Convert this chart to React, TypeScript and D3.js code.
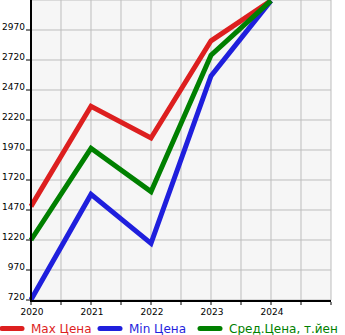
import React from "react";
import * as d3 from "d3";

const years = [2020, 2021, 2022, 2023, 2024];
const maxPrice = [1500, 2335, 2070, 2880, 3215];
const minPrice = [722, 1600, 1192, 2587, 3215];
const avgPrice = [1220, 1984, 1623, 2760, 3215];
const yTicks = [720, 970, 1220, 1470, 1720, 1970, 2220, 2470, 2720, 2970];
const seriesNames = ["Max Цена", "Min Цена", "Сред.Цена, т.йен"];
const seriesColors = ["#dd1f1f", "#1f1fdd", "#008000"];

const W = 345;
const H = 335;
const left = 31;
const right = 331;
const top = 0;
const bottom = 300;

export default function App() {
  const x = d3.scaleLinear().domain([2020, 2025]).range([left, right]);
  const y = d3.scaleLinear().domain([720, 3220]).range([bottom, top]);
  const xGrid = d3.range(2020, 2025.01, 0.5);
  const yGrid = d3.range(720, 3220.1, 250);
  const line = d3
    .line<number>()
    .x((_, i) => x(years[i]))
    .y((d) => y(d));
  const series = [maxPrice, minPrice, avgPrice];
  const font = "DejaVu Sans, sans-serif";
  const legendX = [0, 98, 198];
  return (
    <svg
      width={W}
      height={H}
      style={{ position: "absolute", left: 0, top: 0 }}
    >
      <rect x={left} y={top} width={right - left} height={bottom - top} fill="#f6f6f6" />
      {xGrid.map((g) => (
        <line key={"xg" + g} x1={x(g)} x2={x(g)} y1={top} y2={bottom} stroke="#bdbdbd" strokeWidth={1} />
      ))}
      {yGrid.map((g) => (
        <line key={"yg" + g} x1={left} x2={right} y1={y(g)} y2={y(g)} stroke="#bdbdbd" strokeWidth={1} />
      ))}
      {series.map((s, i) => (
        <path
          key={"s" + i}
          d={line(s) || ""}
          fill="none"
          stroke={seriesColors[i]}
          strokeWidth={5}
          strokeLinejoin="miter"
          strokeLinecap="butt"
        />
      ))}
      <line x1={left} x2={left} y1={top} y2={bottom + 1} stroke="#000" strokeWidth={2} />
      <line x1={left - 1} x2={right} y1={bottom + 1} y2={bottom + 1} stroke="#000" strokeWidth={2} />
      {xGrid.map((g) => (
        <line key={"xt" + g} x1={x(g)} x2={x(g)} y1={bottom + 2} y2={bottom + 5} stroke="#000" strokeWidth={1} />
      ))}
      {yTicks.map((t) => (
        <g key={"yt" + t}>
          <line x1={left - 5} x2={left - 1} y1={y(t)} y2={y(t)} stroke="#000" strokeWidth={1} />
          <text x={25} y={y(t)} textAnchor="end" fontFamily={font} fontSize={9} fill="#000">
            {t}
          </text>
        </g>
      ))}
      {years.map((yr) => (
        <text key={"xl" + yr} x={x(yr) + 1} y={314.5} textAnchor="middle" fontFamily={font} fontSize={9} fill="#000">
          {yr}
        </text>
      ))}
      {seriesNames.map((n, i) => (
        <g key={"lg" + i}>
          <line
            x1={legendX[i] + 2}
            x2={legendX[i] + 22}
            y1={328.5}
            y2={328.5}
            stroke={seriesColors[i]}
            strokeWidth={5}
            strokeLinecap="round"
          />
          <text x={legendX[i] + 31} y={333} fontFamily={font} fontSize={12} fill={seriesColors[i]}>
            {n}
          </text>
        </g>
      ))}
    </svg>
  );
}
